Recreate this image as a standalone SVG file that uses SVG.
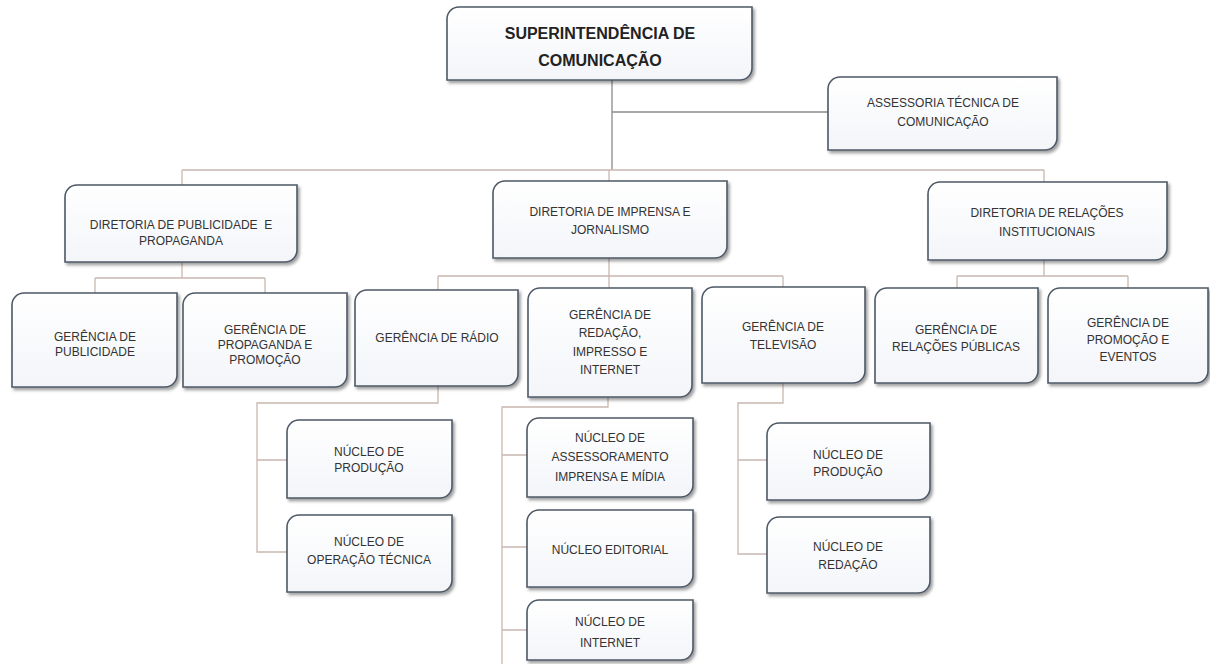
<svg xmlns="http://www.w3.org/2000/svg" width="1210" height="664" viewBox="0 0 1210 664">
<defs>
<filter id="sh" x="-10%" y="-10%" width="125%" height="130%">
<feDropShadow dx="2" dy="2.5" stdDeviation="1.6" flood-color="#000" flood-opacity="0.38"/>
</filter>
<linearGradient id="bg" x1="0" y1="0" x2="0" y2="1">
<stop offset="0" stop-color="#ffffff"/>
<stop offset="1" stop-color="#f3f5f9"/>
</linearGradient>
</defs>
<style>
.box{fill:url(#bg);stroke:#4d5866;stroke-width:1.6;filter:url(#sh)}
.t{font-family:"Liberation Sans",Arial,sans-serif;font-size:12px;fill:#333;text-anchor:middle}
.tb{font-family:"Liberation Sans",Arial,sans-serif;font-size:16px;font-weight:bold;fill:#222;text-anchor:middle}
.c{fill:none;stroke:#c9b7b0;stroke-width:1.3}
.cd{fill:none;stroke:#8a8a8a;stroke-width:1.3}
</style>
<rect width="1210" height="664" fill="#ffffff"/>
<g id="connectors">
<path class="cd" d="M612,80 V170"/>
<path class="cd" d="M612,112 H828"/>
<path class="c" d="M182,170 H1044 M182,170 V185 M609,170 V181 M1044,170 V182"/>
<path class="c" d="M182,262 V278 M95,278 H265 M95,278 V293 M265,278 V293"/>
<path class="c" d="M609,258 V276 M438,276 H783 M438,276 V290 M609,276 V288 M783,276 V287"/>
<path class="c" d="M1044,260 V276 M957,276 H1128 M957,276 V288 M1128,276 V288"/>
<path class="c" d="M438,386 V403 H257 V552 H287 M257,460 H287"/>
<path class="c" d="M608,397 V407 H502 V664 M502,455 H527 M502,547 H527 M502,630 H527"/>
<path class="c" d="M783,383 V403 H738 V554 H767 M738,460 H767"/>
</g>
<g id="superintendencia">
<path class="box" d="M459,7 H752 V68 A12,12 0 0 1 740,80 H447 V19 A12,12 0 0 1 459,7 Z"/>
<text class="tb" x="600" y="39">SUPERINTENDÊNCIA DE</text>
<text class="tb" x="600" y="66">COMUNICAÇÃO</text>
</g>
<g id="assessoria">
<path class="box" d="M840,77 H1057 V138 A12,12 0 0 1 1045,150 H828 V89 A12,12 0 0 1 840,77 Z"/>
<text class="t" x="943" y="107">ASSESSORIA TÉCNICA DE</text>
<text class="t" x="943" y="126">COMUNICAÇÃO</text>
</g>
<g id="dir-publicidade">
<path class="box" d="M77,185 H297 V250 A12,12 0 0 1 285,262 H65 V197 A12,12 0 0 1 77,185 Z"/>
<text class="t" x="181" y="229" xml:space="preserve">DIRETORIA DE PUBLICIDADE  E</text>
<text class="t" x="181" y="245">PROPAGANDA</text>
</g>
<g id="dir-imprensa">
<path class="box" d="M505,181 H727 V246 A12,12 0 0 1 715,258 H493 V193 A12,12 0 0 1 505,181 Z"/>
<text class="t" x="610" y="216">DIRETORIA DE IMPRENSA E</text>
<text class="t" x="610" y="234">JORNALISMO</text>
</g>
<g id="dir-relacoes">
<path class="box" d="M940,182 H1167 V248 A12,12 0 0 1 1155,260 H928 V194 A12,12 0 0 1 940,182 Z"/>
<text class="t" x="1047" y="217">DIRETORIA DE RELAÇÕES</text>
<text class="t" x="1047" y="236">INSTITUCIONAIS</text>
</g>
<g id="ger-publicidade">
<path class="box" d="M24,293 H177 V375 A12,12 0 0 1 165,387 H12 V305 A12,12 0 0 1 24,293 Z"/>
<text class="t" x="95" y="341">GERÊNCIA DE</text>
<text class="t" x="95" y="356">PUBLICIDADE</text>
</g>
<g id="ger-propaganda">
<path class="box" d="M195,293 H347 V375 A12,12 0 0 1 335,387 H183 V305 A12,12 0 0 1 195,293 Z"/>
<text class="t" x="265" y="334">GERÊNCIA DE</text>
<text class="t" x="265" y="349">PROPAGANDA E</text>
<text class="t" x="265" y="364">PROMOÇÃO</text>
</g>
<g id="ger-radio">
<path class="box" d="M367,290 H518 V374 A12,12 0 0 1 506,386 H355 V302 A12,12 0 0 1 367,290 Z"/>
<text class="t" x="437" y="342">GERÊNCIA DE RÁDIO</text>
</g>
<g id="ger-redacao">
<path class="box" d="M540,288 H692 V385 A12,12 0 0 1 680,397 H528 V300 A12,12 0 0 1 540,288 Z"/>
<text class="t" x="610" y="319">GERÊNCIA DE</text>
<text class="t" x="610" y="337">REDAÇÃO,</text>
<text class="t" x="610" y="356">IMPRESSO E</text>
<text class="t" x="610" y="374">INTERNET</text>
</g>
<g id="ger-televisao">
<path class="box" d="M714,287 H865 V371 A12,12 0 0 1 853,383 H702 V299 A12,12 0 0 1 714,287 Z"/>
<text class="t" x="783" y="331">GERÊNCIA DE</text>
<text class="t" x="783" y="349">TELEVISÃO</text>
</g>
<g id="ger-relacoes-publicas">
<path class="box" d="M887,288 H1038 V371 A12,12 0 0 1 1026,383 H875 V300 A12,12 0 0 1 887,288 Z"/>
<text class="t" x="956" y="334">GERÊNCIA DE</text>
<text class="t" x="956" y="351">RELAÇÕES PÚBLICAS</text>
</g>
<g id="ger-promocao">
<path class="box" d="M1060,288 H1208 V371 A12,12 0 0 1 1196,383 H1048 V300 A12,12 0 0 1 1060,288 Z"/>
<text class="t" x="1128" y="327">GERÊNCIA DE</text>
<text class="t" x="1128" y="344">PROMOÇÃO E</text>
<text class="t" x="1128" y="361">EVENTOS</text>
</g>
<g id="nuc-producao-radio">
<path class="box" d="M299,420 H452 V486 A12,12 0 0 1 440,498 H287 V432 A12,12 0 0 1 299,420 Z"/>
<text class="t" x="369" y="456">NÚCLEO DE</text>
<text class="t" x="369" y="472">PRODUÇÃO</text>
</g>
<g id="nuc-operacao">
<path class="box" d="M299,515 H452 V580 A12,12 0 0 1 440,592 H287 V527 A12,12 0 0 1 299,515 Z"/>
<text class="t" x="369" y="546">NÚCLEO DE</text>
<text class="t" x="369" y="564">OPERAÇÃO TÉCNICA</text>
</g>
<g id="nuc-assessoramento">
<path class="box" d="M539,418 H693 V485 A12,12 0 0 1 681,497 H527 V430 A12,12 0 0 1 539,418 Z"/>
<text class="t" x="610" y="442">NÚCLEO DE</text>
<text class="t" x="610" y="461">ASSESSORAMENTO</text>
<text class="t" x="610" y="481">IMPRENSA E MÍDIA</text>
</g>
<g id="nuc-editorial">
<path class="box" d="M539,510 H693 V575 A12,12 0 0 1 681,587 H527 V522 A12,12 0 0 1 539,510 Z"/>
<text class="t" x="610" y="554">NÚCLEO EDITORIAL</text>
</g>
<g id="nuc-internet">
<path class="box" d="M539,600 H693 V648 A12,12 0 0 1 681,660 H527 V612 A12,12 0 0 1 539,600 Z"/>
<text class="t" x="610" y="626">NÚCLEO DE</text>
<text class="t" x="610" y="647">INTERNET</text>
</g>
<g id="nuc-producao-tv">
<path class="box" d="M779,423 H930 V488 A12,12 0 0 1 918,500 H767 V435 A12,12 0 0 1 779,423 Z"/>
<text class="t" x="848" y="459">NÚCLEO DE</text>
<text class="t" x="848" y="476">PRODUÇÃO</text>
</g>
<g id="nuc-redacao-tv">
<path class="box" d="M779,517 H930 V581 A12,12 0 0 1 918,593 H767 V529 A12,12 0 0 1 779,517 Z"/>
<text class="t" x="848" y="551">NÚCLEO DE</text>
<text class="t" x="848" y="569">REDAÇÃO</text>
</g>
</svg>
